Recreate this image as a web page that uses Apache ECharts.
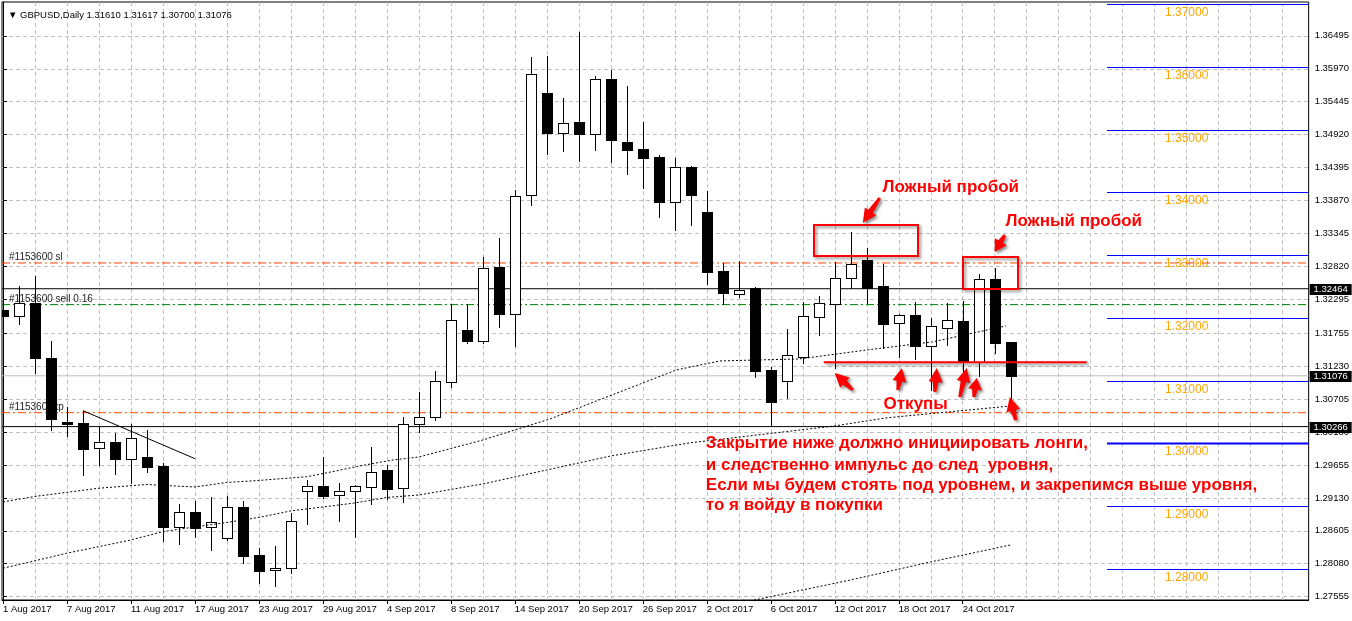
<!DOCTYPE html>
<html>
<head>
<meta charset="utf-8">
<script src="https://cdn.jsdelivr.net/npm/echarts@6/dist/echarts.min.js"></script>
<style>
  html, body { margin: 0; padding: 0; background: #fff; }
  #chart { width: 1352px; height: 621px; }
</style>
</head>
<body>
<div id="chart"></div>
<script>
// ---- data (GBPUSD daily, 1 Aug .. 27 Oct 2017) ----
const opens  = [1.32125,1.32030,1.32242,1.31365,1.30340,1.30324,1.29921,1.30021,1.29755,1.29782,
                1.29639,1.28671,1.28906,1.28666,1.28496,1.28985,1.28220,1.27976,1.28008,1.29236,
                1.29316,1.29172,1.29236,1.29300,1.29575,1.29283,1.30303,1.30415,1.30973,1.31807,
                1.31636,1.32811,1.32067,1.33954,1.35585,1.34952,1.35122,1.34936,1.35808,1.34804,
                1.34692,1.34564,1.33852,1.34405,1.33688,1.32747,1.32376,1.32481,1.31169,1.30994,
                1.31381,1.32019,1.32217,1.32631,1.32923,1.32508,1.31914,1.32046,1.31557,1.31834,
                1.31950,1.31301,1.32620,1.31610]
const highs  = [1.32444,1.32508,1.32672,1.31631,1.30575,1.30520,1.30276,1.30160,1.30313,1.30208,
                1.29687,1.29033,1.29086,1.29140,1.29156,1.29081,1.28327,1.28369,1.28885,1.29417,
                1.29778,1.29363,1.29330,1.29942,1.29655,1.30415,1.30823,1.31153,1.32226,1.32216,
                1.32970,1.33273,1.34034,1.36158,1.36179,1.35505,1.36557,1.35856,1.35946,1.35701,
                1.35127,1.34596,1.34548,1.34426,1.34022,1.32870,1.32907,1.32497,1.31212,1.31823,
                1.32248,1.32349,1.32895,1.33374,1.33109,1.32854,1.32054,1.32258,1.31994,1.32232,
                1.32269,1.32695,1.32790,1.31617]
const lows   = [1.31903,1.31898,1.31117,1.30213,1.30122,1.29500,1.29655,1.29516,1.29373,1.29548,
                1.28448,1.28400,1.28507,1.28305,1.28464,1.28093,1.27779,1.27731,1.27938,1.28719,
                1.29134,1.28762,1.28511,1.29038,1.29118,1.29070,1.30179,1.30372,1.30903,1.31595,
                1.31595,1.31850,1.31556,1.33804,1.34617,1.34665,1.34505,1.34681,1.34489,1.34298,
                1.34075,1.33613,1.33406,1.33485,1.32540,1.32217,1.32338,1.31063,1.30270,1.30727,
                1.31286,1.31727,1.31196,1.32481,1.32242,1.31525,1.31372,1.31340,1.30850,1.31568,
                1.31142,1.31073,1.31445,1.30700]
const closes = [1.32030,1.32232,1.31356,1.30393,1.30308,1.29915,1.30021,1.29755,1.30080,1.29628,
                1.28671,1.28901,1.28656,1.28741,1.28985,1.28209,1.27970,1.28008,1.28757,1.29316,
                1.29166,1.29236,1.29316,1.29539,1.29277,1.30303,1.30415,1.30994,1.31961,1.31636,
                1.32790,1.32067,1.33938,1.35887,1.34952,1.35102,1.34936,1.35803,1.34840,1.34681,
                1.34553,1.33852,1.34405,1.33963,1.32736,1.32392,1.32444,1.31158,1.30664,1.31408,
                1.32030,1.32232,1.32631,1.32854,1.32481,1.31902,1.32046,1.31557,1.31871,1.31962,
                1.31292,1.32615,1.31595,1.31076]

// time scale labels (bar index -> date)
const labelIdx   = [0,4,8,12,16,20,24,28,32,36,40,44,48,52,56,60]
const dateLabels = ['1 Aug 2017','7 Aug 2017','11 Aug 2017','17 Aug 2017','23 Aug 2017','29 Aug 2017',
                    '4 Sep 2017','8 Sep 2017','14 Sep 2017','20 Sep 2017','26 Sep 2017','2 Oct 2017',
                    '6 Oct 2017','12 Oct 2017','18 Oct 2017','24 Oct 2017']
const gridIdx    = [0,2,4,6,8,10,12,14,16,18,20,22,24,26,28,30,32,34,36,38,40,
                    42,44,46,48,50,52,54,56,58,60,62,64,66,68,70,72,74,76,78,80]
// price scale labels
const priceTicks = [1.27555,1.28080,1.28605,1.29130,1.29655,1.30180,1.30705,1.31230,1.31755,
                    1.32295,1.32820,1.33345,1.33870,1.34395,1.34920,1.35445,1.35970,1.36495]

// moving averages (bar index, value)
const maSlowIdx = [0,2,6,9,10,12,14,16,19,20.6,22.3,24.4,26,30,34.2,42.1,44.8,49.8,54,58.1,62.7]
const maSlowVal = [1.29065,1.29153,1.29284,1.29344,1.29328,1.29304,1.29376,1.29408,1.29468,1.29548,
                   1.29639,1.29735,1.29782,1.30053,1.30388,1.31169,1.31313,1.31345,1.31488,1.31616,1.31871]
const maLowIdx  = [0,4,8,10,12,14,16,18,20,22,24,26,30,34,38,42.9,52,55.2,63]
const maLowVal  = [1.28008,1.28248,1.28459,1.28592,1.28667,1.28738,1.28818,1.28922,1.28985,1.29049,
                   1.29137,1.29176,1.29352,1.29575,1.29798,1.30006,1.30277,1.30405,1.30595]
const maLongIdx = [46,47,53,58,63]
const maLongVal = [1.27420,1.27503,1.27822,1.28109,1.28380]

// order / horizontal lines
const orderPrices = [1.32875,1.32211,1.30488,1.32464,1.30266,1.31076]
const orderTags   = ['#1153600 sl','#1153600 sell 0.16','#1153600 tp','','','']
// round levels on the right
const levels = [1.28,1.29,1.30,1.31,1.32,1.33,1.34,1.35,1.36,1.37]

// trend line (bar index, price)
const trendIdx = [5,12]
const trendVal = [1.30520,1.29755]

// red notes
const noteBoxes = [[50.7,1.33480,57.2,1.32986],[60.0,1.32970,63.44,1.32460]]
const noteArrows = [
  [54.81,1.33910,53.75,1.33512],[62.63,1.33321,62.0,1.33050],
  [53.12,1.30850,52.0,1.31121],[55.94,1.30850,56.19,1.31200],[58.25,1.30818,58.38,1.31200],
  [59.81,1.30738,60.25,1.31200],[60.69,1.30738,60.88,1.31041],[63.31,1.30371,62.94,1.30738]
]
const supportLine = [51.31,67.75,1.31291]
const notesCentered = [['Ложный пробой',59.25,1.34086],['Ложный пробой',66.94,1.33544],['Откупы',57.06,1.30626]]
const notesBlock = ['Закрытие ниже должно инициировать лонги,','и следственно импульс до след  уровня,',
                    'Если мы будем стоять под уровнем, и закрепимся выше уровня,','то я войду в покупки']
const notesBlockAt = [43.94,[1.30005,1.29654,1.29335,1.29016]]

// ---- chart ----
const FONT = 'Liberation Sans'
const X_MIN = -0.0625, X_MAX = 81.625
const Y_MIN = 1.27502, Y_MAX = 1.37035

const chart = echarts.init(document.getElementById('chart'))

const candleData = opens.map((o, i) => [i, o, closes[i], lows[i], highs[i]])

function renderCandle(params, api) {
  const i = api.value(0)
  const o = api.value(1), c = api.value(2), l = api.value(3), h = api.value(4)
  const pO = api.coord([i, o]), pC = api.coord([i, c])
  const pH = api.coord([i, h]), pL = api.coord([i, l])
  const x = Math.round(pO[0])
  const top = Math.round(Math.min(pO[1], pC[1]))
  const bot = Math.round(Math.max(pO[1], pC[1]))
  const kids = [
    { type: 'line', shape: { x1: x + 0.5, y1: Math.round(pH[1]), x2: x + 0.5, y2: Math.round(pL[1]) + 1 },
      style: { stroke: '#000', lineWidth: 1 } },
    { type: 'rect', shape: { x: x - 5, y: top, width: 11, height: Math.max(bot - top, 1) + 1 },
      style: { fill: '#000' } }
  ]
  if (c >= o && bot - top >= 2) {
    kids.push({ type: 'rect', shape: { x: x - 4, y: top + 1, width: 9, height: bot - top - 1 },
      style: { fill: '#fff' } })
  }
  return { type: 'group', children: kids }
}

const orderLook = [
  { c: '#ff4500', dash: [8, 3, 2, 3] }, { c: '#008000', dash: [8, 3, 2, 3] }, { c: '#ff4500', dash: [8, 3, 2, 3] },
  { c: '#000', dash: 'solid' }, { c: '#000', dash: 'solid' }, { c: '#c0c0c0', dash: 'solid' }
]

// tags on the order lines (left text, right price box)
function renderOrderTag(params, api) {
  const p = api.value(1)
  const cs = params.coordSys
  const y = Math.round(api.coord([0, p])[1])
  const kids = []
  const tag = orderTags[params.dataIndex]
  if (tag) {
    kids.push({ type: 'text', x: cs.x + 7, y: y - 1,
      style: { text: tag, fill: '#222', font: '10px "' + FONT + '"', textAlign: 'left', textVerticalAlign: 'bottom' } })
  }
  if (params.dataIndex >= 3) {
    const bx = cs.x + cs.width + 1
    kids.push({ type: 'rect', shape: { x: bx, y: y - 5, width: 42, height: 11 }, style: { fill: '#000' } })
    kids.push({ type: 'text', x: bx + 21, y: y + 0.5,
      style: { text: p.toFixed(5), fill: '#fff', font: '9.5px "' + FONT + '"', textAlign: 'center', textVerticalAlign: 'middle' } })
  }
  return { type: 'group', children: kids }
}

function renderLevel(params, api) {
  const lv = api.value(1)
  const cs = params.coordSys
  const p0 = api.coord([69, lv])
  const y = Math.round(p0[1]) + 0.5
  const w = lv === 1.30 ? 2 : 1
  const lab = api.coord([74, lv])
  return { type: 'group', children: [
    { type: 'line', shape: { x1: Math.round(p0[0]), y1: y, x2: cs.x + cs.width, y2: y },
      style: { stroke: '#0000ff', lineWidth: w } },
    { type: 'text', x: lab[0], y: y + 8,
      style: { text: lv.toFixed(5), fill: '#ffa500', font: '12px "' + FONT + '"', textAlign: 'center', textVerticalAlign: 'middle' } }
  ] }
}

const axisFont = { fontFamily: FONT, fontSize: 9.5, color: '#000' }
const gridDash = { color: '#c0c0c0', type: [4, 3], width: 1 }

const orderSeries = orderPrices.map((p, k) => ({
  name: 'order' + k, type: 'line', z: 1, silent: true, symbol: 'none',
  data: [[X_MIN, p], [X_MAX, p]],
  lineStyle: { color: orderLook[k].c, width: 1, type: orderLook[k].dash }
}))

chart.setOption({
  animation: false,
  backgroundColor: '#fff',
  title: {
    text: '▼ GBPUSD,Daily ' + [opens[63], highs[63], lows[63], closes[63]].map(v => v.toFixed(5)).join(' '),
    left: 3, top: 5,
    textStyle: { fontFamily: FONT, fontSize: 9.5, fontWeight: 'normal', color: '#000' }
  },
  grid: { left: 2, right: 43, top: 2, bottom: 21, show: true, borderColor: '#000', borderWidth: 1, backgroundColor: '#fff' },
  xAxis: [
    { type: 'value', min: X_MIN, max: X_MAX, position: 'bottom',
      axisLine: { show: true, lineStyle: { color: '#000' } },
      axisTick: { show: true, customValues: labelIdx, length: 4, lineStyle: { color: '#000' } },
      axisLabel: { customValues: labelIdx, align: 'left', margin: 4, ...axisFont,
        formatter: v => dateLabels[labelIdx.indexOf(Math.round(v))] || '' },
      splitLine: { show: false } },
    { type: 'value', min: X_MIN, max: X_MAX, position: 'bottom',
      axisLine: { show: false }, axisLabel: { show: false },
      axisTick: { show: false, customValues: gridIdx },
      splitLine: { show: true, lineStyle: gridDash } }
  ],
  yAxis: {
    type: 'value', min: Y_MIN, max: Y_MAX, position: 'right',
    axisLine: { show: true, lineStyle: { color: '#000' } },
    axisTick: { show: true, customValues: priceTicks, length: 4, lineStyle: { color: '#000' } },
    axisLabel: { customValues: priceTicks, margin: 6, ...axisFont, formatter: v => v.toFixed(5) },
    splitLine: { show: true, lineStyle: gridDash }
  },
  series: [
    ...orderSeries,
    { name: 'orderTags', type: 'custom', z: 1, renderItem: renderOrderTag,
      data: orderPrices.map(p => [0, p]), encode: { x: 0, y: 1 }, silent: true },
    { name: 'levels', type: 'custom', z: 1, renderItem: renderLevel,
      data: levels.map(v => [69, v]), encode: { x: 0, y: 1 }, silent: true },
    { name: 'trend', type: 'line', z: 2, data: trendIdx.map((x, i) => [x, trendVal[i]]),
      symbol: 'none', lineStyle: { color: '#000', width: 1 } },
    { name: 'GBPUSD', type: 'custom', z: 3, clip: true, renderItem: renderCandle,
      data: candleData, encode: { x: 0, y: [1, 2, 3, 4] } },
    { name: 'ma1', type: 'line', z: 4, data: maSlowIdx.map((x, i) => [x, maSlowVal[i]]),
      symbol: 'none', lineStyle: { color: '#000', width: 1, type: [2, 2] } },
    { name: 'ma2', type: 'line', z: 4, data: maLowIdx.map((x, i) => [x, maLowVal[i]]),
      symbol: 'none', lineStyle: { color: '#000', width: 1, type: [2, 2] } },
    { name: 'ma3', type: 'line', z: 4, data: maLongIdx.map((x, i) => [x, maLongVal[i]]),
      symbol: 'none', clip: true, lineStyle: { color: '#000', width: 1, type: [2, 2] } }
  ]
})

// ---- red hand notes, placed through the chart's own scales ----
const px = (i, p) => chart.convertToPixel({ xAxisIndex: 0, yAxisIndex: 0 }, [i, p])
const shadow = { shadowBlur: 3, shadowColor: 'rgba(0,0,0,0.45)', shadowOffsetX: 2, shadowOffsetY: 2 }
const RED = '#ff0000'
const noteFont = 'bold 17px "' + FONT + '"'

function arrowPoints(t, h) {
  const dx = h[0] - t[0], dy = h[1] - t[1], len = Math.hypot(dx, dy)
  const ux = dx / len, uy = dy / len, nx = -uy, ny = ux
  const hl = Math.min(14, len * 0.6), hw = 7
  const bx = h[0] - ux * hl, by = h[1] - uy * hl
  return [[t[0] + nx * 1.5, t[1] + ny * 1.5], [bx + nx * 2.8, by + ny * 2.8], [bx + nx * hw, by + ny * hw], h,
          [bx - nx * hw, by - ny * hw], [bx - nx * 2.8, by - ny * 2.8], [t[0] - nx * 1.5, t[1] - ny * 1.5]]
}

const g = []
noteBoxes.forEach(b => {
  const a = px(b[0], b[1]), c = px(b[2], b[3])
  g.push({ type: 'rect', z: 100, shape: { x: Math.round(a[0]), y: Math.round(a[1]), width: Math.round(c[0] - a[0]), height: Math.round(c[1] - a[1]) },
    style: { fill: null, stroke: RED, lineWidth: 2, ...shadow } })
})
noteArrows.forEach(a => {
  g.push({ type: 'polygon', z: 100, shape: { points: arrowPoints(px(a[0], a[1]), px(a[2], a[3])) },
    style: { fill: RED, ...shadow } })
})
{
  const a = px(supportLine[0], supportLine[2]), b = px(supportLine[1], supportLine[2])
  g.push({ type: 'line', z: 100, shape: { x1: a[0], y1: a[1], x2: b[0], y2: b[1] },
    style: { stroke: RED, lineWidth: 2, ...shadow } })
}
notesCentered.forEach(n => {
  const p = px(n[1], n[2])
  g.push({ type: 'text', z: 101, x: p[0], y: p[1],
    style: { text: n[0], fill: RED, font: noteFont, textAlign: 'center', textVerticalAlign: 'middle', ...shadow } })
})
notesBlock.forEach((t, k) => {
  const p = px(notesBlockAt[0], notesBlockAt[1][k])
  g.push({ type: 'text', z: 101, x: p[0], y: p[1],
    style: { text: t, fill: RED, font: noteFont, textAlign: 'left', textVerticalAlign: 'middle', ...shadow } })
})
chart.setOption({ graphic: g })
</script>
</body>
</html>
